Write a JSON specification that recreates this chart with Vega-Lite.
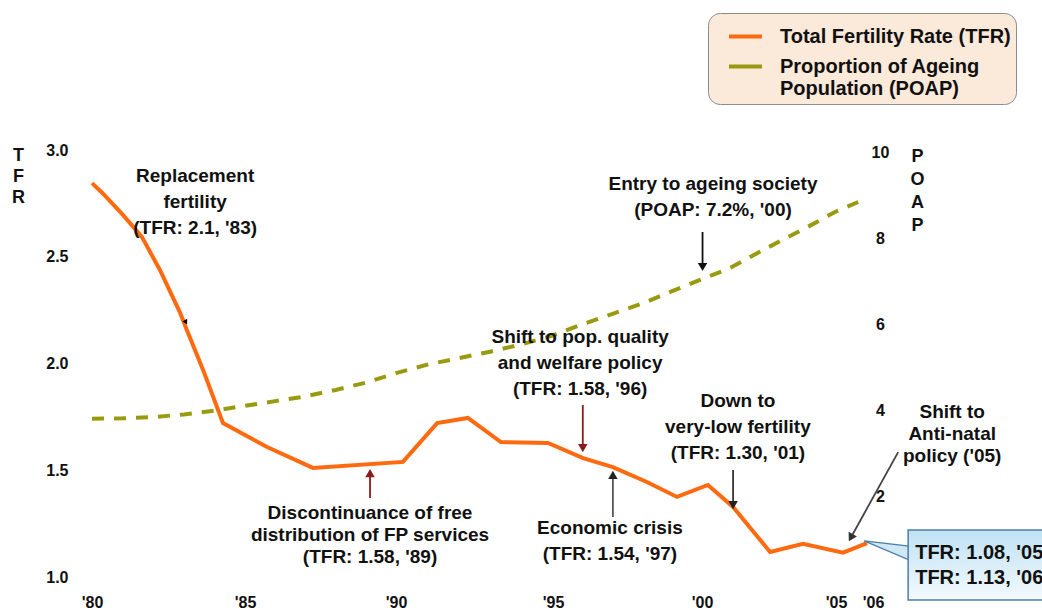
{
  "$schema": "https://vega.github.io/schema/vega-lite/v6.json",
  "width": 790,
  "height": 427,
  "autosize": "none",
  "padding": {"left": 85, "top": 150, "right": 167, "bottom": 35},
  "background": "white",
  "config": {
    "view": {"stroke": null},
    "font": "Liberation Sans"
  },
  "datasets": {
    "tfr": [
      {"year": 1980, "tfr": 2.845, "series": "TFR"},
      {"year": 1980.33, "tfr": 2.80, "series": "TFR"},
      {"year": 1981.01, "tfr": 2.696, "series": "TFR"},
      {"year": 1981.63, "tfr": 2.593, "series": "TFR"},
      {"year": 1982.22, "tfr": 2.438, "series": "TFR"},
      {"year": 1982.88, "tfr": 2.237, "series": "TFR"},
      {"year": 1983.1, "tfr": 2.157, "series": "TFR"},
      {"year": 1983.63, "tfr": 1.97, "series": "TFR"},
      {"year": 1984.28, "tfr": 1.721, "series": "TFR"},
      {"year": 1985.73, "tfr": 1.609, "series": "TFR"},
      {"year": 1987.25, "tfr": 1.511, "series": "TFR"},
      {"year": 1990.22, "tfr": 1.539, "series": "TFR"},
      {"year": 1991.31, "tfr": 1.721, "series": "TFR"},
      {"year": 1992.29, "tfr": 1.745, "series": "TFR"},
      {"year": 1993.34, "tfr": 1.632, "series": "TFR"},
      {"year": 1994.84, "tfr": 1.628, "series": "TFR"},
      {"year": 1996.01, "tfr": 1.557, "series": "TFR"},
      {"year": 1997.01, "tfr": 1.515, "series": "TFR"},
      {"year": 1998.15, "tfr": 1.445, "series": "TFR"},
      {"year": 1999.16, "tfr": 1.375, "series": "TFR"},
      {"year": 2000.22, "tfr": 1.431, "series": "TFR"},
      {"year": 2001.16, "tfr": 1.328, "series": "TFR"},
      {"year": 2002.54, "tfr": 1.117, "series": "TFR"},
      {"year": 2003.77, "tfr": 1.155, "series": "TFR"},
      {"year": 2005.19, "tfr": 1.114, "series": "TFR"},
      {"year": 2005.84, "tfr": 1.159, "series": "TFR"}
    ],
    "poap": [
      {"year": 1980, "poap": 3.80, "series": "POAP"},
      {"year": 1981, "poap": 3.81, "series": "POAP"},
      {"year": 1982, "poap": 3.84, "series": "POAP"},
      {"year": 1983, "poap": 3.90, "series": "POAP"},
      {"year": 1984, "poap": 3.99, "series": "POAP"},
      {"year": 1985, "poap": 4.10, "series": "POAP"},
      {"year": 1986, "poap": 4.21, "series": "POAP"},
      {"year": 1987, "poap": 4.32, "series": "POAP"},
      {"year": 1988, "poap": 4.47, "series": "POAP"},
      {"year": 1989, "poap": 4.64, "series": "POAP"},
      {"year": 1990, "poap": 4.86, "series": "POAP"},
      {"year": 1991, "poap": 5.06, "series": "POAP"},
      {"year": 1992, "poap": 5.21, "series": "POAP"},
      {"year": 1993, "poap": 5.36, "series": "POAP"},
      {"year": 1994, "poap": 5.53, "series": "POAP"},
      {"year": 1995, "poap": 5.74, "series": "POAP"},
      {"year": 1996, "poap": 6.00, "series": "POAP"},
      {"year": 1997, "poap": 6.24, "series": "POAP"},
      {"year": 1998, "poap": 6.48, "series": "POAP"},
      {"year": 1999, "poap": 6.77, "series": "POAP"},
      {"year": 2000, "poap": 7.05, "series": "POAP"},
      {"year": 2001, "poap": 7.29, "series": "POAP"},
      {"year": 2002, "poap": 7.63, "series": "POAP"},
      {"year": 2003, "poap": 7.96, "series": "POAP"},
      {"year": 2004, "poap": 8.28, "series": "POAP"},
      {"year": 2005, "poap": 8.62, "series": "POAP"},
      {"year": 2005.6, "poap": 8.84, "series": "POAP"}
    ],
    "pointer": [
      {"year": 2005.76, "tfr": 1.169, "tfr2": 1.169},
      {"year": 2006.97, "tfr": 1.145, "tfr2": 1.08}
    ],
    "box": [
      {"year": 2006.95, "year2": 2011, "tfr": 1.22, "tfr2": 0.892}
    ],
    "callout": [
      {"year": 2007.14, "tfr": 1.157, "label": "TFR: 1.08, '05\nTFR: 1.13, '06"}
    ],
    "arrows": [
      {"year": 1989.14, "tfr": 1.370, "year2": 1989.14, "tfr2": 1.49, "c": "#8c1c1c"},
      {"year": 1996.0, "tfr": 1.806, "year2": 1996.0, "tfr2": 1.604, "c": "#8c1c1c"},
      {"year": 2000.02, "tfr": 2.616, "year2": 2000.02, "tfr2": 2.452, "c": "#111111"},
      {"year": 1997.01, "tfr": 1.281, "year2": 1997.01, "tfr2": 1.478, "c": "#5b5353"},
      {"year": 2001.16, "tfr": 1.501, "year2": 2001.16, "tfr2": 1.337, "c": "#333333"},
      {"year": 2006.68, "tfr": 1.585, "year2": 2005.40, "tfr2": 1.184, "c": "#444444"}
    ],
    "heads": [
      {"year": 1989.14, "tfr": 1.487, "a": 0, "c": "#8c1c1c", "s": 90},
      {"year": 1996.0, "tfr": 1.604, "a": 180, "c": "#8c1c1c", "s": 90},
      {"year": 2000.02, "tfr": 2.452, "a": 180, "c": "#111111", "s": 90},
      {"year": 1997.01, "tfr": 1.478, "a": 0, "c": "#222222", "s": 90},
      {"year": 2001.16, "tfr": 1.337, "a": 180, "c": "#222222", "s": 90},
      {"year": 2005.40, "tfr": 1.184, "a": 208.7, "c": "#333333", "s": 90},
      {"year": 1983.07, "tfr": 2.194, "a": 150, "c": "#000000", "s": 30}
    ],
    "notes26": [
      {"year": 1983.37, "tfr": 2.922, "label": "Replacement\nfertility\n(TFR: 2.1, '83)"},
      {"year": 1995.91, "tfr": 2.168, "label": "Shift to pop. quality\nand welfare policy\n(TFR: 1.58, '96)"},
      {"year": 2000.41, "tfr": 2.885, "label": "Entry to ageing society\n(POAP: 7.2%,  '00)"},
      {"year": 2001.34, "tfr": 1.868, "label": "Down to\nvery-low fertility\n(TFR: 1.30, '01)"},
      {"year": 1996.91, "tfr": 1.274, "label": "Economic crisis\n(TFR: 1.54, '97)"}
    ],
    "notes22": [
      {"year": 1989.14, "tfr": 1.344, "label": "Discontinuance of free\ndistribution of FP services\n(TFR: 1.58, '89)"},
      {"year": 2008.14, "tfr": 1.817, "label": "Shift to\nAnti-natal\npolicy ('05)"}
    ]
  },
  "encoding": {
    "x": {"field": "year", "type": "quantitative",
          "scale": {"domain": [1980, 1985, 1990, 1995, 2000, 2005, 2006], "range": [7, 160, 311, 468, 617, 751, 788], "nice": false, "zero": false},
          "axis": {"values": [1980, 1985, 1990, 1995, 2000, 2005, 2006], "labelExpr": "\"'\" + substring(toString(datum.value), 2)",
                   "domain": false, "ticks": false, "tickSize": 0, "grid": false, "labelPadding": 17, "labelFontSize": 16, "labelFontWeight": "bold",
                   "labelColor": "#111111", "labelOverlap": false, "labelFlush": false, "title": null}}
  },
  "layer": [
    {
      "data": {"name": "poap"},
      "mark": {"type": "line", "strokeWidth": 4, "strokeDash": [12, 10], "strokeCap": "butt"},
      "encoding": {
        "y": {"field": "poap", "type": "quantitative",
              "scale": {"domain": [0.12, 10.05], "nice": false, "zero": false},
              "axis": {"orient": "right", "values": [2, 4, 6, 8, 10], "domain": false, "ticks": false, "tickSize": 0, "grid": false,
                       "labelPadding": 5, "labelAlign": "center", "labelFontSize": 16, "labelFontWeight": "bold", "labelColor": "#111111",
                       "title": ["P", "O", "A", "P"], "titleAngle": 0, "titleX": 42, "titleY": -3, "titleAlign": "center", "titleBaseline": "top",
                       "titleFontSize": 18, "titleFontWeight": "bold", "titleLineHeight": 23, "titleColor": "#111111"}},
        "color": {"field": "series", "type": "nominal",
                  "scale": {"domain": ["TFR", "POAP"], "range": ["#ff6a10", "#999a0f"]},
                  "legend": {"orient": "none", "legendX": 623, "legendY": -137, "title": null,
                             "fillColor": "#fbe9da", "strokeColor": "#8c8c8c", "cornerRadius": 12, "padding": 5,
                             "symbolType": "stroke", "symbolSize": 1089, "symbolStrokeWidth": 4, "symbolOffset": 14,
                             "labelFontSize": 20, "labelFontWeight": "bold", "labelColor": "#111111", "labelLimit": 400, "labelOffset": 16, "rowPadding": 1,
                             "labelExpr": "datum.value == 'TFR' ? 'Total Fertility Rate (TFR)\u00a0\u00a0\u00a0\u00a0' : ['Proportion of Ageing', 'Population (POAP)']",
                             "encoding": {"symbols": {"update": {"strokeDash": {"signal": "datum.value == 'POAP' ? [3, 4] : [1, 0]"}}}}}}
      }
    },
    {
      "encoding": {
        "y": {"field": "tfr", "type": "quantitative",
              "scale": {"domain": [1, 3], "nice": false, "zero": false},
              "axis": {"orient": "left", "values": [1, 1.5, 2, 2.5, 3], "format": ".1f", "domain": false, "ticks": false, "tickSize": 0, "grid": false,
                       "labelPadding": 17, "labelFontSize": 16, "labelFontWeight": "bold", "labelColor": "#111111",
                       "title": ["T", "F", "R"], "titleAngle": 0, "titleX": -67, "titleY": -4, "titleAlign": "center", "titleBaseline": "top",
                       "titleFontSize": 18, "titleFontWeight": "bold", "titleLineHeight": 21, "titleColor": "#111111"}}
      },
      "layer": [
        {
          "data": {"name": "tfr"},
          "mark": {"type": "line", "strokeWidth": 4},
          "encoding": {
            "color": {"field": "series", "type": "nominal",
                      "scale": {"domain": ["TFR", "POAP"], "range": ["#ff6a10", "#999a0f"]},
                      "legend": {"orient": "none", "legendX": 623, "legendY": -137, "title": null,
                                 "fillColor": "#fbe9da", "strokeColor": "#8c8c8c", "cornerRadius": 12, "padding": 5,
                                 "symbolType": "stroke", "symbolSize": 1089, "symbolStrokeWidth": 4, "symbolOffset": 14,
                                 "labelFontSize": 20, "labelFontWeight": "bold", "labelColor": "#111111", "labelLimit": 400, "labelOffset": 16, "rowPadding": 1,
                                 "labelExpr": "datum.value == 'TFR' ? 'Total Fertility Rate (TFR)\u00a0\u00a0\u00a0\u00a0' : ['Proportion of Ageing', 'Population (POAP)']",
                                 "encoding": {"symbols": {"update": {"strokeDash": {"signal": "datum.value == 'POAP' ? [3, 4] : [1, 0]"}}}}}}
          }
        },
        {
          "data": {"name": "pointer"},
          "mark": {"type": "area", "fill": "#cfe8f6", "stroke": "#4d7ea8", "strokeWidth": 1.2},
          "encoding": {"y2": {"field": "tfr2"}}
        },
        {
          "data": {"name": "box"},
          "mark": {"type": "rect", "stroke": "#4d7ea8", "strokeWidth": 1.5,
                   "fill": {"gradient": "linear", "x1": 0, "y1": 0, "x2": 0, "y2": 1,
                            "stops": [{"offset": 0, "color": "#bfe2f4"}, {"offset": 1, "color": "#f3f9fd"}]}},
          "encoding": {"x2": {"field": "year2"}, "y2": {"field": "tfr2"}}
        },
        {
          "data": {"name": "callout"},
          "mark": {"type": "text", "align": "left", "baseline": "top", "lineBreak": "\n", "lineHeight": 25,
                   "fontSize": 20, "fontWeight": "bold", "color": "#111111"},
          "encoding": {"text": {"field": "label"}}
        },
        {
          "data": {"name": "arrows"},
          "mark": {"type": "rule", "strokeWidth": 1.8},
          "encoding": {
            "x2": {"field": "year2"},
            "y2": {"field": "tfr2"},
            "color": {"field": "c", "type": "nominal", "scale": null}
          }
        },
        {
          "data": {"name": "heads"},
          "mark": {"type": "point", "filled": true, "opacity": 1, "shape": "triangle-up"},
          "encoding": {
            "angle": {"field": "a", "type": "quantitative", "scale": null},
            "size": {"field": "s", "type": "quantitative", "scale": null},
            "color": {"field": "c", "type": "nominal", "scale": null}
          }
        },
        {
          "data": {"name": "notes26"},
          "mark": {"type": "text", "align": "center", "baseline": "top", "lineBreak": "\n", "lineHeight": 26,
                   "fontSize": 19, "fontWeight": "bold", "color": "#111111"},
          "encoding": {"text": {"field": "label"}}
        },
        {
          "data": {"name": "notes22"},
          "mark": {"type": "text", "align": "center", "baseline": "top", "lineBreak": "\n", "lineHeight": 22,
                   "fontSize": 19, "fontWeight": "bold", "color": "#111111"},
          "encoding": {"text": {"field": "label"}}
        }
      ]
    }
  ],
  "resolve": {"scale": {"y": "independent"}}
}
